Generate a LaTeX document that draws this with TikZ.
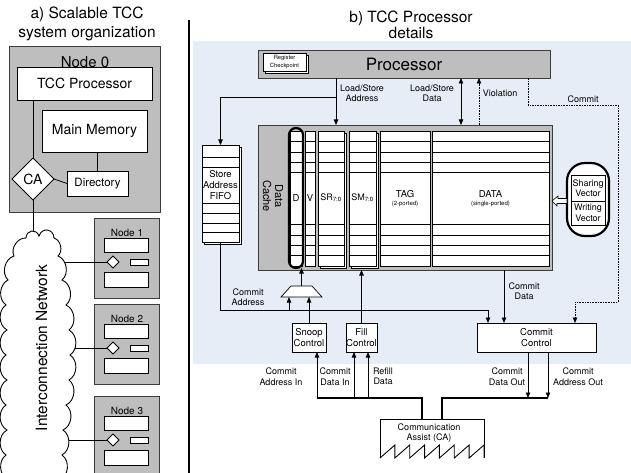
\documentclass[tikz,border=0pt]{standalone}
\usepackage{fontspec}
\setmainfont{TeX Gyre Heros}
\usetikzlibrary{arrows.meta,shapes.geometric,calc}
\definecolor{boxgray}{RGB}{190,190,190}
\definecolor{panelblue}{RGB}{231,237,247}
\definecolor{edgegray}{RGB}{60,60,60}
\newcommand\fsz[2]{\fontsize{#1}{#2}\selectfont}
\begin{document}
\begin{tikzpicture}[x=1pt,y=-1pt,
  every node/.style={inner sep=0pt,outer sep=0pt},
  wbox/.style={draw,fill=white,line width=0.8pt},
  gbox/.style={draw=edgegray,fill=boxgray,line width=0.9pt},
  txt/.style={align=center,font=\fsz{9}{10.5}},
  arr/.style={line width=0.7pt,-{Triangle[length=5.5pt,width=4.5pt]}},
  dotline/.style={line width=0.7pt,dash pattern=on 1.6pt off 1pt},
  bus/.style={line width=2.6pt},
  cell/.style={draw,fill=white,line width=0.6pt},
  wire/.style={line width=0.8pt},
]
\useasboundingbox (0,0) rectangle (631,473);

% ================= a) system organization =================
\node[align=center,font=\fsz{15.5}{18.5}] (titleA) at (87,24) {a) Scalable TCC\\system organization};
\node[gbox,minimum width=151,minimum height=166] (node0) at (84.5,129) {};
\node[font=\fsz{15}{18}] (node0lbl) at (85,62) {Node 0};
\node[wbox,minimum width=135,minimum height=33,font=\fsz{14}{16}] (tccp) at (84.5,83.5) {TCC Processor};
\node[wbox,minimum width=105,minimum height=42,font=\fsz{14}{16}] (mem) at (94.5,131) {Main Memory};
\node[wbox,minimum width=61,minimum height=25,font=\fsz{11.5}{14}] (dir) at (97.5,183.5) {Directory};
\node[diamond,draw,fill=white,line width=0.8pt,minimum width=42,minimum height=42,font=\fsz{14}{16}] (ca0) at (33,179) {CA};
\draw[wire] (tccp.south -| ca0.north) -- (ca0.north);
\draw[wire] (ca0.east) -- (dir.west);
\draw[wire] (dir.north) -- (dir.north |- mem.south);
\coordinate (cloudin) at (33,250);
\draw[wire] (ca0.south) -- (cloudin);

% remote nodes
\foreach \k/\T in {1/218,2/304,3/396}{
  \node[gbox,minimum width=65,minimum height=80,anchor=north west] (nd\k) at (94,\T) {};
  \node[font=\fsz{10}{12}] (ndl\k) at (127,\T+15) {Node \k};
  \node[wbox,minimum width=44,minimum height=14] (nt\k) at (126,\T+27) {};
  \node[diamond,draw,fill=white,line width=0.8pt,minimum width=12,minimum height=12] (nc\k) at (113,\T+44) {};
  \node[wbox,minimum width=18,minimum height=6] (nr\k) at (139,\T+44) {};
  \node[wbox,minimum width=44,minimum height=15] (nb\k) at (126,\T+61.5) {};
  \coordinate (lk\k) at (45,\T+44);
  \draw[wire] (lk\k) -- (nc\k.west);
}

% interconnection cloud
\draw[fill=white,line width=0.9pt]
  (26,238) to[bend left=80,looseness=1.6] (39,236)
  to[bend left=80,looseness=1.6] (54,238)
  to[bend left=60] (58,256) to[bend left=60] (62,280)
  to[bend left=60] (66,305) to[bend left=60] (69,330)
  to[bend left=60] (70,355) to[bend left=60] (69,380)
  to[bend left=60] (66,405) to[bend left=60] (63,430)
  to[bend left=60] (62,455) to[bend left=60] (60,480)
  -- (8,480)
  to[bend left=60] (6,455) to[bend left=60] (7,430)
  to[bend left=60] (6,405) to[bend left=60] (7,380)
  to[bend left=60] (6,355) to[bend left=60] (7,330)
  to[bend left=60] (6,305) to[bend left=60] (8,280)
  to[bend left=60] (14,256) to[bend left=60] (26,238) -- cycle;
\node[rotate=90,font=\fsz{15.5}{18}] (icn) at (41.5,348) {Interconnection Network};

% divider
\coordinate (divtop) at (189,20);
\coordinate (divbot) at (189,474);
\draw[line width=2pt] (divtop) -- (divbot);

% ================= b) processor details =================
\fill[panelblue] (193,41) rectangle (631,364);
\node[align=center,font=\fsz{15.5}{16.5}] (titleB) at (411,25) {b) TCC Processor\\details};

% processor
\node[gbox,minimum width=292,minimum height=28,font=\fsz{17}{20}] (proc) at (404,64) {Processor};
\node[draw,fill=white,line width=0.6pt,minimum width=43,minimum height=18] (regb) at (287,64.5) {};
\node[draw,fill=white,line width=0.6pt,minimum width=43,minimum height=18,align=center,font=\fsz{5.8}{7.5}] (reg) at (284.5,62) {Register\\Checkpoint};

% data cache
\node[gbox,minimum width=294,minimum height=145] (cache) at (405,197.5) {};
\node[rotate=-90,align=center,font=\fsz{11}{12}] (cachelbl) at (273,196) {Data\\Cache};

% shadows behind SR / SM
\node[cell,minimum width=26,minimum height=135] (colSRb) at (333,200.5) {};
\node[cell,minimum width=27,minimum height=135] (colSMb) at (364.5,200.5) {};
% columns
\node[cell,minimum width=12,minimum height=135] (colD) at (296,198.5) {};
\node[cell,minimum width=10,minimum height=135] (colV) at (310,198.5) {};
\node[cell,minimum width=26,minimum height=135] (colSR) at (331,198.5) {};
\node[cell,minimum width=27,minimum height=135] (colSM) at (362.5,198.5) {};
\node[cell,minimum width=50,minimum height=135] (colTAG) at (405,198.5) {};
\node[cell,minimum width=117,minimum height=135] (colDATA) at (490.5,198.5) {};
\foreach \c in {colD,colV,colSR,colSM,colTAG,colDATA}{
  \foreach \yy in {141,152,162,172,224,235,245,255}{
    \coordinate (ry) at (0,\yy);
    \draw[line width=0.7pt] (\c.west |- ry) -- (\c.east |- ry);
  }
}
\node[draw,line width=2.2pt,rounded corners=7pt,minimum width=14,minimum height=140] (colDo) at (296,198) {};
\node[font=\fsz{9.5}{11}] (lD) at (296,198) {D};
\node[font=\fsz{9.5}{11}] (lV) at (310,198) {V};
\node[font=\fsz{9}{11}] (lSR) at (331,198) {SR\textsubscript{7:0}};
\node[font=\fsz{9}{11}] (lSM) at (362.5,198) {SM\textsubscript{7:0}};
\node[font=\fsz{9.5}{11}] (lTAG) at (405,194) {TAG};
\node[font=\fsz{6}{7}] (lTAG2) at (405,204) {(2-ported)};
\node[font=\fsz{9.5}{11}] (lDATA) at (490.5,194) {DATA};
\node[font=\fsz{6}{7}] (lDATA2) at (490.5,204) {(single-ported)};

% sharing / writing vectors
\node[draw,fill=white,line width=2.2pt,rounded corners=18pt,minimum width=42,minimum height=73] (vec) at (588,199.5) {};
\node[draw,fill=white,line width=0.6pt,minimum width=34,minimum height=26,align=center,font=\fsz{9}{10.5}] (share) at (588,188) {Sharing\\Vector};
\node[draw,fill=white,line width=0.6pt,minimum width=34,minimum height=24,align=center,font=\fsz{9}{10.5}] (write) at (588,213) {Writing\\Vector};
\coordinate (hv) at (567,201);
\coordinate (hc) at (cache.east |- hv);
\draw[fill=white,line width=0.6pt]
  (hv) ++(0,-2.5) -- ++(-9,0) -- ++(0,-2.5) -- (hc) -- ++(5,5) -- ++(0,-2.5) -- ++(10,0) -- cycle;

% store address FIFO
\node[cell,minimum width=37,minimum height=97] (fifob) at (223,196) {};
\node[cell,minimum width=37,minimum height=97] (fifo) at (220.5,193.5) {};
\foreach \yy in {157,167,203,213,223,232}{
  \coordinate (fy) at (0,\yy);
  \draw[line width=0.7pt] (fifo.west |- fy) -- (fifo.east |- fy);
}
\node[align=center,font=\fsz{9.5}{11}] (fifolbl) at (220.5,185) {Store\\Address\\FIFO};

% processor <-> cache
\coordinate (lsa) at (336,97);
\coordinate (lsd) at (461,0);
\coordinate (vio) at (479,0);
\draw[arr] (proc.south -| lsa) -- (cache.north -| lsa);
\draw[arr] (lsa) -| (fifo.north);
\node[txt] (lsalbl) at (362,93) {Load/Store\\Address};
\draw[line width=0.7pt,{Triangle[length=5.5pt,width=4.5pt]}-{Triangle[length=5.5pt,width=4.5pt]}] (proc.south -| lsd) -- (cache.north -| lsd);
\node[txt] (lsdlbl) at (432,93) {Load/Store\\Data};
\draw[dotline,-{Triangle[length=5.5pt,width=4.5pt]}] (cache.north -| vio) -- (proc.south -| vio);
\node[txt] (violbl) at (500,93) {Violation};

% commit control and snoop / fill
\node[wbox,minimum width=119,minimum height=29,align=center,font=\fsz{9.5}{11}] (cc) at (536.5,337.5) {Commit\\Control};
\node[wbox,minimum width=34,minimum height=29,align=center,font=\fsz{9.5}{11}] (snoop) at (309,337.5) {Snoop\\Control};
\node[wbox,minimum width=31,minimum height=29,align=center,font=\fsz{9.5}{11}] (fill) at (361.5,337.5) {Fill\\Control};

% commit signal (dotted)
\coordinate (cm1) at (528,105);
\coordinate (cm2) at (618,105);
\coordinate (cm3) at (618,302);
\coordinate (cm4) at (575,302);
\draw[dotline,-{Triangle[length=5.5pt,width=4.5pt]}] (proc.south -| cm1) -- (cm1) -- (cm2) -- (cm3) -- (cm4) -- (cm4 |- cc.north);
\node[txt] (cmlbl) at (583,99) {Commit};

% multiplexer in front of the D bits
\coordinate (muxT) at (301.5,286);
\coordinate (muxB) at (301.5,297);
\draw[fill=white,line width=0.7pt] (291,286) -- (312,286) -- (322,297) -- (281,297) -- cycle;
\draw[arr] (muxT) -- (muxT |- colDo.south);

% commit address path
\coordinate (cain) at (488,310);
\coordinate (muxin) at (289,310);
\draw[arr] (fifo.south) |- (cain) -- (cain |- cc.north);
\draw[arr] (muxin) -- (muxin |- muxB);
\draw[arr] (snoop.north) -- (snoop.north |- muxB);
\node[txt] (calbl) at (248,297) {Commit\\Address};
\draw[arr] (fill.north) -- (fill.north |- cache.south);

% commit data
\coordinate (cdx) at (504,0);
\draw[arr] (cache.south -| cdx) -- (cc.north -| cdx);
\node[txt] (cdlbl) at (524,291) {Commit\\Data};

% communication assist
\node[minimum width=104,minimum height=39] (ca) at (432,438.5) {};
\draw[line width=0.9pt] (ca.south west) -- (ca.north west) -- (ca.north east) -- (ca.south east);
\draw[line width=0.9pt] (ca.south west)
  \foreach \i in {1,...,7}{ -- ++(14.857,-13) -- ++(0,13) };
\node[txt] (calbl2) at (429,433) {Communication\\Assist (CA)};

% buses
\coordinate (bL) at (317,398);
\coordinate (busL) at (422,398);
\coordinate (busR) at (442,398);
\coordinate (bR) at (548,398);
\coordinate (f1) at (354,398);
\coordinate (f2) at (368,398);
\coordinate (o1) at (528,398);
\draw[bus] (bL) -- (busL) -- (busL |- ca.north);
\draw[bus] (bR) -- (busR) -- (busR |- ca.north);
\draw[arr] (bL) -- (bL |- snoop.south);
\draw[arr] (f1) -- (f1 |- fill.south);
\draw[arr] (f2) -- (f2 |- fill.south);
\draw[arr] (cc.south -| o1) -- (o1);
\draw[arr] (cc.south -| bR) -- (bR);

\node[txt] (l1) at (281,376.5) {Commit\\Address In};
\node[txt] (l2) at (335,376.5) {Commit\\Data In};
\node[txt] (l3) at (383,376.5) {Refill\\Data};
\node[txt] (l4) at (507,376.5) {Commit\\Data Out};
\node[txt] (l5) at (578,376.5) {Commit\\Address Out};
\end{tikzpicture}
\end{document}
